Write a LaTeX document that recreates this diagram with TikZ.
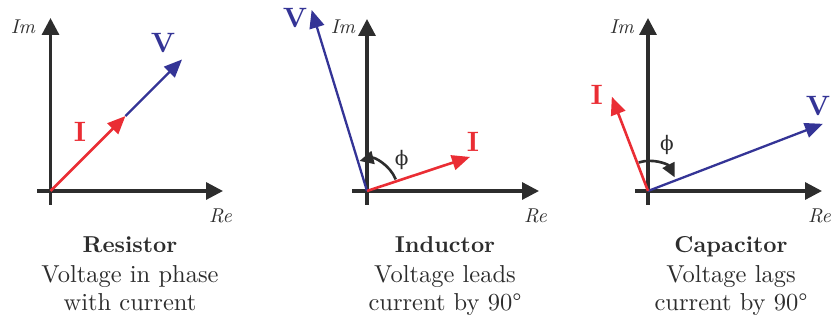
\documentclass[tikz,border=0pt]{standalone}
\usepackage{fontspec}
\setmainfont{lmroman10}[Extension=.otf, UprightFont=*-regular, BoldFont=*-bold,
    ItalicFont=*-italic, BoldItalicFont=*-bolditalic]
\newfontfamily\phifont{DejaVu Serif}
\usetikzlibrary{arrows.meta}
\definecolor{axisgray}{RGB}{45,45,45}
\definecolor{phasered}{RGB}{234,45,52}
\definecolor{phaseblue}{RGB}{52,52,150}
\tikzset{
    axisline/.style={line width=3.2pt, draw=axisgray, -{Triangle[length=17pt,width=17pt]}},
    ivec/.style={line width=2.6pt, draw=phasered, -{Triangle[length=18pt,width=15pt]}},
    vvec/.style={line width=2.3pt, draw=phaseblue, -{Triangle[length=18pt,width=15pt]}},
    phiarc/.style={line width=2.6pt, draw=axisgray, -{Triangle[length=14pt,width=13pt]}},
    axislabel/.style={font=\fontsize{20}{24}\selectfont\itshape, text=axisgray, inner sep=0pt},
    ilabel/.style={font=\fontsize{28}{32}\selectfont\bfseries, text=phasered, inner sep=0pt},
    vlabel/.style={font=\fontsize{28}{32}\selectfont\bfseries, text=phaseblue, inner sep=0pt},
    philabel/.style={font=\fontsize{20}{24}\selectfont\phifont, text=axisgray, inner sep=0pt},
    titletext/.style={font=\fontsize{23}{28}\selectfont\bfseries, text=axisgray, anchor=base, inner sep=0pt},
    desctext/.style={font=\fontsize{24.5}{29}\selectfont, text=axisgray, anchor=base, inner sep=0pt}
}
\begin{document}
\begin{tikzpicture}[x=1pt,y=1pt]
    \useasboundingbox (0,0) rectangle (833,324);
    % resistor: V and I in phase
    \begin{scope}[shift={(50.5,133)}]
        \coordinate (O1) at (0,0);
        \draw[axisline] (-13.5,0) -- (172.5,0);
        \draw[axisline] (0,-14) -- (0,173);
        \node[axislabel] (im1) at (-27.5,164) {Im};
        \node[axislabel] (re1) at (170,-25) {Re};
        \coordinate (I1) at (45:106);
        \coordinate (V1) at (45:186);
        \draw[vvec] (I1) -- (V1);
        \draw[ivec] (O1) -- (I1);
        \node[ilabel] (il1) at (29.5,59) {I};
        \node[vlabel] (vl1) at (112.5,148) {V};
    \end{scope}
    % inductor: V leads I
    \begin{scope}[shift={(367,133)}]
        \coordinate (O2) at (0,0);
        \draw[axisline] (-15,0) -- (172,0);
        \draw[axisline] (0,-14) -- (0,172);
        \node[axislabel] (im2) at (-24,164) {Im};
        \node[axislabel] (re2) at (168.5,-25) {Re};
        \coordinate (I2) at (18.3:108.5);
        \coordinate (V2) at (107:189.3);
        \draw[vvec] (O2) -- (V2);
        \draw[ivec] (O2) -- (I2);
        \draw[phiarc] (22:31) arc[start angle=22, end angle=104, radius=31];
        \node[philabel] (phi2) at (34.7,31) {ϕ};
        \node[ilabel] (il2) at (106,49) {I};
        \node[vlabel] (vl2) at (-72,173) {V};
    \end{scope}
    % capacitor: V lags I
    \begin{scope}[shift={(648,133)}]
        \coordinate (O3) at (0,0);
        \draw[axisline] (-13,0) -- (174,0);
        \draw[axisline] (0,-14) -- (0,173);
        \node[axislabel] (im3) at (-26.3,164) {Im};
        \node[axislabel] (re3) at (171.5,-25) {Re};
        \coordinate (I3) at (111:101);
        \coordinate (V3) at (21:187.4);
        \draw[vvec] (O3) -- (V3);
        \draw[ivec] (O3) -- (I3);
        \draw[phiarc] (108:30) arc[start angle=108, end angle=27, radius=30];
        \node[philabel] (phi3) at (19,46) {ϕ};
        \node[ilabel] (il3) at (-51.3,96) {I};
        \node[vlabel] (vl3) at (170,85) {V};
    \end{scope}
    % captions
    \node[titletext] (restitle) at (130,71) {Resistor};
    \node[desctext] (resline1) at (130,41) {Voltage in phase};
    \node[desctext] (resline2) at (130,13) {with current};
    \node[titletext] (indtitle) at (445,71) {Inductor};
    \node[desctext] (indline1) at (445,41) {Voltage leads};
    \node[desctext] (indline2) at (445,13) {current by 90°};
    \node[titletext] (captitle) at (731,71) {Capacitor};
    \node[desctext] (capline1) at (731,41) {Voltage lags};
    \node[desctext] (capline2) at (731,13) {current by 90°};
\end{tikzpicture}
\end{document}
